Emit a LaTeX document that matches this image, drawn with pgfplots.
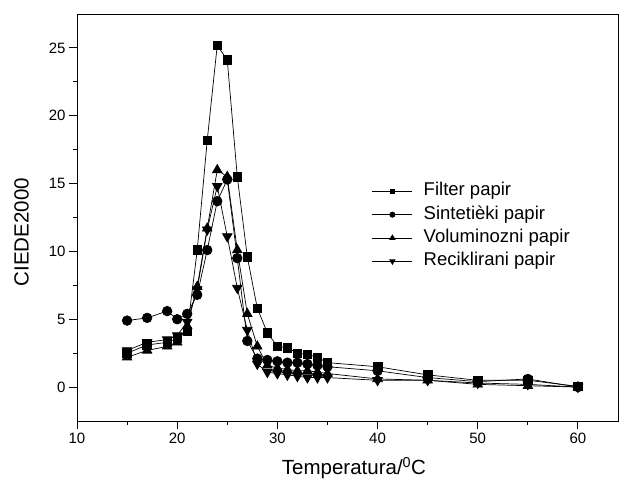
\documentclass[border=0pt]{standalone}
\usepackage{fontspec}
\setmainfont{Liberation Sans}
\usepackage{pgfplots}
\pgfplotsset{compat=1.18}

\begin{document}
\begin{tikzpicture}
\begin{axis}[
    scale only axis,
    width=541pt, height=407pt,
    xmin=10, xmax=64,
    ymin=-2.5, ymax=27.5,
    xtick={10,20,...,60},
    minor xtick={15,25,...,55},
    ytick={0,5,...,25},
    minor ytick={2.5,7.5,...,22.5},
    tick pos=left,
    tick align=outside,
    major tick length=8pt,
    minor tick length=4pt,
    every tick/.style={black, line width=0.9pt},
    axis line style={line width=0.9pt},
    /pgf/number format/assume math mode=true,
    tick label style={font=\fontsize{15}{18}\selectfont},
    xlabel={Temperatura/$^{\mathrm{0}}$C},
    ylabel={CIEDE2000},
    label style={font=\fontsize{20.5}{24}\selectfont},
    xlabel style={at={(ticklabel cs:0.512)}, yshift=-7pt},
    ylabel style={at={(ticklabel cs:0.464)}, yshift=13pt},
    legend style={
        at={(0.545,0.588)}, anchor=north west,
        draw=none, fill=none, inner sep=0pt,
        font=\fontsize{18.5}{22}\selectfont,
        nodes={inner sep=1pt, text height=13pt, text depth=4pt},
        row sep=4.3pt,
        /tikz/every odd column/.append style={column sep=10pt},
    },
    legend cell align=left,
    legend image code/.code={
        \draw[mark repeat=2, mark phase=2, every mark/.append style={scale=0.55}]
            plot coordinates {(0pt,0pt) (20pt,0pt) (40pt,0pt)};
    },
    every axis plot/.append style={black, line width=0.7pt},
]

% Filter papir
\addplot[mark=square*, mark size=4.3pt] coordinates {
    (15,2.5) (17,3.1) (19,3.3) (20,3.6) (21,4.1) (22,10.1) (23,18.2)
    (24,25.2) (25,24.1) (26,15.5) (27,9.6) (28,5.8) (29,4.0) (30,3.0)
    (31,2.9) (32,2.5) (33,2.4) (34,2.2) (35,1.8) (40,1.5) (45,0.9)
    (50,0.5) (55,0.5) (60,0.05)
};
\addlegendentry{Filter papir}

% Sintetički papir
\addplot[mark=*, mark size=4.8pt] coordinates {
    (15,4.9) (17,5.1) (19,5.6) (20,5.0) (21,5.4) (22,6.8) (23,10.1)
    (24,13.7) (25,15.3) (26,9.5) (27,3.4) (28,2.1) (29,2.0) (30,1.9)
    (31,1.8) (32,1.8) (33,1.7) (34,1.6) (35,1.5) (40,1.2) (45,0.7)
    (50,0.4) (55,0.6) (60,0.0)
};
\addlegendentry{Sintetièki papir}

% Voluminozni papir
\addplot[mark=triangle*, mark size=5.5pt] coordinates {
    (15,2.2) (17,2.7) (19,3.0) (20,3.3) (21,4.5) (22,7.4) (23,11.7)
    (24,16.0) (25,15.5) (26,10.1) (27,5.4) (28,3.0) (29,1.6) (30,1.4)
    (31,1.3) (32,1.2) (33,1.2) (34,1.1) (35,1.0) (40,0.6) (45,0.5)
    (50,0.2) (55,0.1) (60,0.0)
};
\addlegendentry{Voluminozni papir}

% Reciklirani papir
\addplot[mark=triangle*, mark size=5.5pt, mark options={rotate=180}] coordinates {
    (15,2.7) (17,3.3) (19,3.5) (20,3.8) (21,4.8) (22,7.2) (23,11.6)
    (24,14.8) (25,11.1) (26,7.3) (27,4.2) (28,1.7) (29,1.1) (30,1.0)
    (31,0.9) (32,0.8) (33,0.7) (34,0.7) (35,0.7) (40,0.5) (45,0.5)
    (50,0.3) (55,0.2) (60,0.0)
};
\addlegendentry{Reciklirani papir}

\end{axis}
\path ([shift={(-77pt,-67pt)}]current axis.south west)
    rectangle ([shift={(3pt,14pt)}]current axis.north east);
\end{tikzpicture}
\end{document}
